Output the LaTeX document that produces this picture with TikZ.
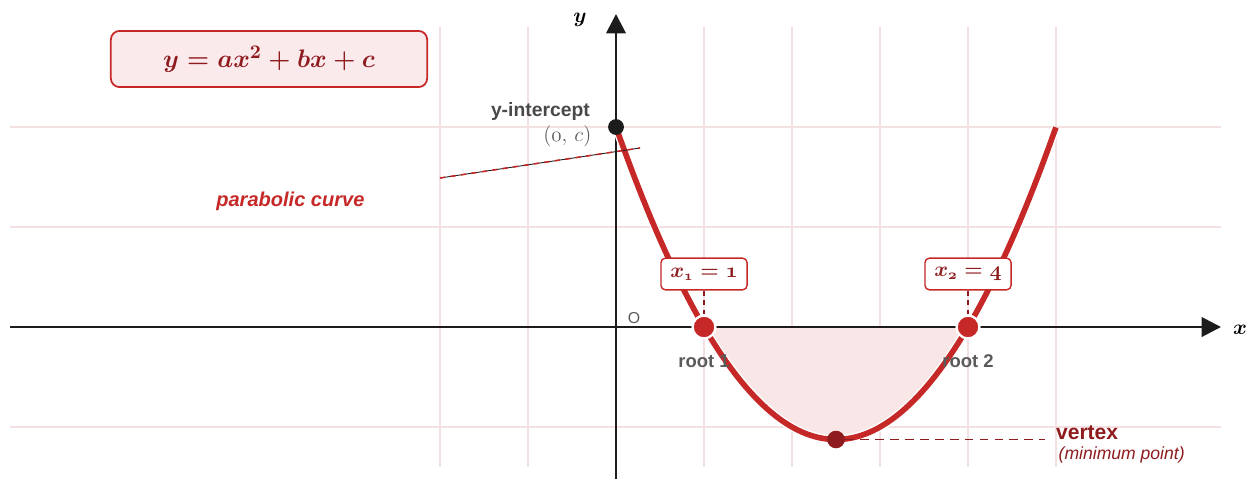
\documentclass[tikz,border=0pt]{standalone}
\usepackage{fontspec}
\setsansfont{Liberation Sans}
\usetikzlibrary{arrows.meta}

\definecolor{curvered}{HTML}{C62828}
\definecolor{darkred}{HTML}{8E1B1E}
\definecolor{gridpink}{HTML}{F3E0E0}
\definecolor{fillpink}{HTML}{F9E6E6}
\definecolor{boxpink}{HTML}{FBEAEC}
\definecolor{axisblack}{HTML}{1C1C1C}
\definecolor{textgray}{HTML}{5A5A5A}

\begin{document}
\begin{tikzpicture}[x=1.76cm, y=1cm, >={Triangle[length=11pt,width=11pt]},
  grid line/.style={draw=gridpink, line width=0.6pt},
  axis line/.style={draw=axisblack, line width=1.6pt, ->},
  label box/.style={draw=curvered, fill=white, rounded corners=2.5pt, line width=0.8pt,
    minimum width=49pt, minimum height=18pt, inner sep=1pt, text=darkred},
  root dot/.style={circle, fill=curvered, draw=white, line width=1.3pt,
    minimum size=13pt, inner sep=0pt},
  guide/.style={draw=darkred, line width=1pt, dash pattern=on 3pt off 2.5pt},
  sanslabel/.style={font=\sffamily\bfseries\fontsize{10.5}{12}\selectfont}]
  \useasboundingbox (-7.0,-3.04) rectangle (7.261,6.54);
  % grid
  \foreach \gy in {-2,2,4}
    \draw[grid line] (-6.886,\gy)--(6.875,\gy);
  \foreach \gx in {-2,-1,1,2,3,4,5}
    \draw[grid line] (\gx,-2.8)--(\gx,6.0);
  % shaded region between the roots
  \fill[fillpink] plot[domain=1:4, samples=60] (\x,{(\x-1)*(\x-4)}) -- cycle;
  % axes
  \coordinate (xstart) at (-6.886,0);
  \coordinate (xend) at (6.875,0);
  \coordinate (ystart) at (0,-3.04);
  \coordinate (yend) at (0,6.26);
  \draw[axis line] (xstart)--(xend);
  \draw[axis line] (ystart)--(yend);
  \node[font=\boldmath\fontsize{13}{15}\selectfont] (xlabel) at (7.09,-0.06) {$x$};
  \node[font=\boldmath\fontsize{13}{15}\selectfont] (ylabel) at (-0.409,6.14) {$y$};
  \node[font=\sffamily\fontsize{9}{10}\selectfont, text=textgray] (origin) at (0.205,0.18) {O};
  % parabola
  \draw[white, line width=4.8pt] plot[domain=0:5, samples=100] (\x,{(\x-1)*(\x-4)});
  \draw[curvered, line width=3.2pt] plot[domain=0:5, samples=100] (\x,{(\x-1)*(\x-4)});
  % equation box
  \node[draw=curvered, fill=boxpink, rounded corners=5pt, line width=1pt,
    minimum width=180pt, minimum height=32pt, text=darkred,
    font=\boldmath\fontsize{15}{17}\selectfont] (equation) at (-3.943,5.36) {$y = ax^2 + bx + c$};
  % curve annotation
  \node[font=\sffamily\bfseries\itshape\fontsize{11.4}{13}\selectfont, text=curvered] (curvelabel) at (-3.70,2.52) {parabolic curve};
  \coordinate (pointerstart) at (-2,2.98);
  \coordinate (pointerend) at (0.273,3.58);
  \draw[axisblack, line width=0.5pt] (pointerstart)--(pointerend);
  \draw[curvered, line width=0.9pt, dash pattern=on 3pt off 3pt] (pointerstart)--(pointerend);
  % y-intercept
  \node[circle, fill=axisblack, minimum size=9pt, inner sep=0pt] (yint) at (0,4) {};
  \node[sanslabel, text=axisblack!80, anchor=east, font=\sffamily\bfseries\fontsize{11}{13}\selectfont] (yinttext) at (-0.227,4.3) {y-intercept};
  \node[text=textgray, anchor=east, font=\fontsize{11.5}{13}\selectfont] (yintcoord) at (-0.21,3.82) {$(\mathnormal{0},\, c)$};
  % roots
  \node[root dot] (root1) at (1,0) {};
  \node[root dot] (root2) at (4,0) {};
  \node[label box, font=\boldmath\fontsize{12}{14}\selectfont] (x1box) at (1,1.06) {$x_{\mathnormal{1}} = \mathnormal{1}$};
  \node[label box, font=\boldmath\fontsize{12}{14}\selectfont] (x2box) at (4,1.06) {$x_{\mathnormal{2}} = \mathnormal{4}$};
  \draw[guide] (x1box.south)--(root1.north);
  \draw[guide] (x2box.south)--(root2.north);
  \node[sanslabel, text=textgray] (root1text) at (1,-0.68) {root 1};
  \node[sanslabel, text=textgray] (root2text) at (4,-0.68) {root 2};
  % vertex
  \node[circle, fill=darkred, minimum size=10pt, inner sep=0pt] (vertex) at (2.5,-2.25) {};
  \coordinate (vertexguide) at (4.875,-2.25);
  \draw[guide, dash pattern=on 5pt off 3.5pt] (vertex.east)--(vertexguide);
  \node[font=\sffamily\bfseries\fontsize{12}{14}\selectfont, text=darkred, anchor=west] (vertextext) at (4.93,-2.12) {vertex};
  \node[font=\sffamily\itshape\fontsize{10}{12}\selectfont, text=darkred, anchor=west] (vertexnote) at (4.96,-2.56) {(minimum point)};
\end{tikzpicture}
\end{document}
